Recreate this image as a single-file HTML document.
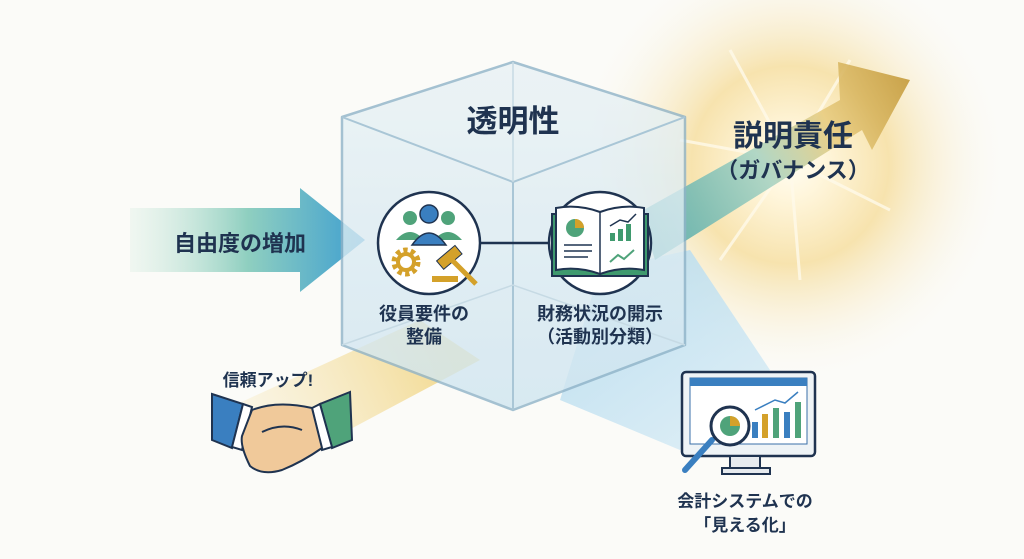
<!DOCTYPE html>
<html><head><meta charset="utf-8"><style>
html,body{margin:0;padding:0;background:#fbfbf8;}
svg{display:block;}
text{font-family:"Liberation Sans","Noto Sans CJK JP",sans-serif;font-weight:700;fill:#1f3350;}
</style></head><body>
<svg width="1024" height="559" viewBox="0 0 1024 559" xmlns="http://www.w3.org/2000/svg">
<defs>
<radialGradient id="glow" cx="790" cy="165" r="220" gradientUnits="userSpaceOnUse">
<stop offset="0" stop-color="#fffdf2"/><stop offset="0.15" stop-color="#fff6dc"/><stop offset="0.45" stop-color="#f7e3ae"/><stop offset="1" stop-color="#fbfbf8" stop-opacity="0"/></radialGradient>
<linearGradient id="la" x1="130" y1="0" x2="365" y2="0" gradientUnits="userSpaceOnUse">
<stop offset="0" stop-color="#d6ece0" stop-opacity="0.3"/><stop offset="0.5" stop-color="#8fcfc0"/><stop offset="1" stop-color="#3f9fd0"/></linearGradient>
<linearGradient id="ra" x1="640" y1="230" x2="910" y2="80" gradientUnits="userSpaceOnUse">
<stop offset="0" stop-color="#4fa8a8"/><stop offset="0.45" stop-color="#a9d3c2"/><stop offset="0.7" stop-color="#e8cc80"/><stop offset="1" stop-color="#c49a3a"/></linearGradient>
<linearGradient id="cube" x1="0" y1="62" x2="0" y2="410" gradientUnits="userSpaceOnUse">
<stop offset="0" stop-color="#e9f2f5"/><stop offset="1" stop-color="#cfe5f0"/></linearGradient>
<linearGradient id="yb" x1="440" y1="330" x2="240" y2="420" gradientUnits="userSpaceOnUse">
<stop offset="0" stop-color="#f2d98f"/><stop offset="1" stop-color="#f7e8bd" stop-opacity="0.3"/></linearGradient>
<linearGradient id="bb" x1="600" y1="280" x2="720" y2="440" gradientUnits="userSpaceOnUse">
<stop offset="0" stop-color="#b7dcef"/><stop offset="1" stop-color="#d6ebf5"/></linearGradient>
</defs>
<rect width="1024" height="559" fill="#fbfbf8"/>
<circle cx="790" cy="165" r="225" fill="url(#glow)"/>
<g stroke="#fffaea" stroke-width="3" opacity="0.8">
<line x1="790" y1="160" x2="730" y2="50"/><line x1="790" y1="160" x2="850" y2="60"/><line x1="790" y1="160" x2="890" y2="210"/><line x1="790" y1="160" x2="720" y2="260"/><line x1="790" y1="160" x2="800" y2="280"/><line x1="790" y1="160" x2="680" y2="140"/></g>
<polygon points="420,320 480,360 330,440 235,405" fill="url(#yb)"/>
<polygon points="600,270 690,250 770,370 680,450 560,400" fill="url(#bb)" opacity="0.85"/>
<polygon points="640,212 840,100 838,62 910,80 872,150 862,130 655,260" fill="url(#ra)" opacity="0.9"/>
<polygon points="130,208 300,208 300,188 365,240 300,292 300,272 130,272" fill="url(#la)"/>
<polygon points="513,62 685,117 685,345 513,410 342,345 342,117" fill="url(#cube)" opacity="0.8" stroke="#8fb3c8" stroke-width="2.5" stroke-linejoin="round"/>
<polyline points="342,117 513,182 685,117" fill="none" stroke="#a9c6d6" stroke-width="2"/>
<line x1="513" y1="182" x2="513" y2="410" stroke="#a9c6d6" stroke-width="2"/>
<line x1="513" y1="62" x2="513" y2="182" stroke="#c6dae4" stroke-width="1.5"/>
<polyline points="342,345 513,285 685,345" fill="none" stroke="#c6dae4" stroke-width="1.5"/>
<text x="513" y="132" font-size="31" text-anchor="middle">透明性</text>
<line x1="480" y1="243" x2="550" y2="243" stroke="#1f3350" stroke-width="2.5"/>
<circle cx="429" cy="243" r="51" fill="#fff" stroke="#1f3350" stroke-width="2.5"/>
<circle cx="410" cy="218" r="7" fill="#4fa37a"/><circle cx="448" cy="218" r="7" fill="#4fa37a"/>
<path d="M396 240 q14-16 28 0z M434 240 q14-16 28 0z" fill="#4fa37a"/>
<circle cx="429" cy="214" r="9" fill="#3a7fc0" stroke="#1f3350" stroke-width="1.5"/>
<path d="M412 245 q17-24 34 0z" fill="#3a7fc0" stroke="#1f3350" stroke-width="1.5"/>
<circle cx="406" cy="262" r="11" fill="none" stroke="#d4a12a" stroke-width="7" stroke-dasharray="4 3"/>
<circle cx="406" cy="262" r="8" fill="none" stroke="#d4a12a" stroke-width="4"/>
<rect x="437" y="252" width="24" height="11" fill="#d4a12a" transform="rotate(-40 449 257)" stroke="#1f3350" stroke-width="1"/>
<line x1="452" y1="260" x2="476" y2="284" stroke="#d4a12a" stroke-width="5"/>
<rect x="432" y="276" width="26" height="6" fill="#d4a12a"/>
<text x="424" y="320" font-size="18" text-anchor="middle">役員要件の</text>
<text x="424" y="343" font-size="18" text-anchor="middle">整備</text>
<circle cx="600" cy="243" r="51" fill="#fff" stroke="#1f3350" stroke-width="2.5"/>
<path d="M552 214 h96 v62 h-96z" fill="#3f9a6e" stroke="#1f3350" stroke-width="2"/>
<path d="M556 208 q22-4 44 4 q22-8 44-4 v62 q-22-4-44 4 q-22-8-44-4z" fill="#fff" stroke="#1f3350" stroke-width="2"/>
<line x1="600" y1="212" x2="600" y2="274" stroke="#1f3350" stroke-width="1.5"/>
<circle cx="575" cy="228" r="9" fill="#4fa37a"/><path d="M575 228 v-9 a9 9 0 0 1 9 9z" fill="#d4a12a"/>
<g stroke="#1f3350" stroke-width="1.5"><line x1="564" y1="245" x2="592" y2="245"/><line x1="564" y1="251" x2="592" y2="251"/><line x1="564" y1="257" x2="588" y2="257"/></g>
<rect x="610" y="233" width="5" height="8" fill="#3f9a6e"/><rect x="618" y="229" width="5" height="12" fill="#3f9a6e"/><rect x="626" y="224" width="5" height="17" fill="#3f9a6e"/>
<polyline points="610,226 620,220 628,222 636,214" fill="none" stroke="#1f3350" stroke-width="1.5"/>
<polyline points="610,262 618,255 624,259 634,250" fill="none" stroke="#4fa37a" stroke-width="2"/>
<text x="600" y="320" font-size="18" text-anchor="middle">財務状況の開示</text>
<text x="600" y="343" font-size="18" text-anchor="middle">（活動別分類）</text>
<text x="240" y="251" font-size="22" text-anchor="middle">自由度の増加</text>
<text x="793" y="146" font-size="30" text-anchor="middle">説明責任</text>
<text x="793" y="178" font-size="22" text-anchor="middle">（ガバナンス）</text>
<text x="268" y="386" font-size="17" text-anchor="middle">信頼アップ!</text>
<polygon points="212,394 243,404 232,448 212,440" fill="#3a7fc0" stroke="#1f3350" stroke-width="2"/>
<polygon points="243,404 252,407 242,450 232,447" fill="#fff" stroke="#1f3350" stroke-width="2"/>
<polygon points="350,392 320,404 332,448 352,440" fill="#4fa37a" stroke="#1f3350" stroke-width="2"/>
<polygon points="320,404 312,408 322,450 332,447" fill="#fff" stroke="#1f3350" stroke-width="2"/>
<path d="M252 410 q25-10 60-2 l10 40 q-20 14-40 22 q-20 6-32-4 q-10-20-8-30z" fill="#f0c99a" stroke="#1f3350" stroke-width="2"/>
<path d="M262 432 q20-10 40-2" fill="none" stroke="#1f3350" stroke-width="2"/>
<rect x="682" y="372" width="133" height="84" rx="4" fill="#eef3f6" stroke="#1f3350" stroke-width="2.5"/>
<rect x="690" y="378" width="117" height="66" fill="#fff" stroke="#3a6fa8" stroke-width="1"/>
<rect x="690" y="378" width="117" height="8" fill="#3a7fc0"/>
<rect x="730" y="456" width="30" height="12" fill="#e6eaee" stroke="#1f3350" stroke-width="2"/>
<rect x="722" y="468" width="48" height="6" fill="#e6eaee" stroke="#1f3350" stroke-width="2"/>
<rect x="752" y="422" width="6" height="16" fill="#3a7fc0"/><rect x="762" y="414" width="6" height="24" fill="#d4a12a"/><rect x="773" y="408" width="6" height="30" fill="#4fa37a"/><rect x="784" y="412" width="6" height="26" fill="#3a7fc0"/><rect x="795" y="402" width="6" height="36" fill="#4fa37a"/>
<polyline points="755,410 775,400 785,403 798,392" fill="none" stroke="#3a7fc0" stroke-width="1.5"/>
<line x1="712" y1="440" x2="685" y2="470" stroke="#3a7fc0" stroke-width="6" stroke-linecap="round"/>
<circle cx="730" cy="426" r="19" fill="#fff" stroke="#1f3350" stroke-width="3"/>
<circle cx="730" cy="426" r="10" fill="#4fa37a"/><path d="M730 426 v-10 a10 10 0 0 1 10 10z" fill="#d4a12a"/>
<text x="745" y="507" font-size="17" text-anchor="middle">会計システムでの</text>
<text x="745" y="531" font-size="17" text-anchor="middle">「見える化」</text>
</svg>
</body></html>
